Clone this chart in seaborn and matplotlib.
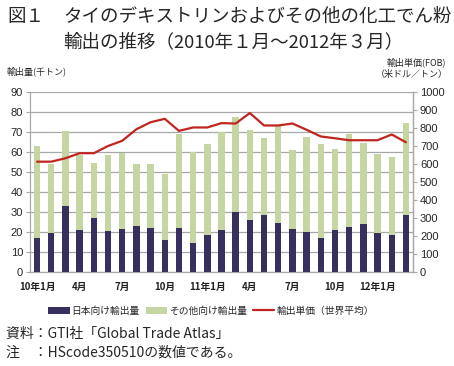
import numpy as np
import pandas as pd
import matplotlib
matplotlib.use("Agg")
import matplotlib.pyplot as plt
import seaborn as sns
from matplotlib.patches import Patch
from matplotlib.lines import Line2D

# ---- data ----
months = ["2010-01", "2010-02", "2010-03", "2010-04", "2010-05", "2010-06", "2010-07",
          "2010-08", "2010-09", "2010-10", "2010-11", "2010-12", "2011-01", "2011-02",
          "2011-03", "2011-04", "2011-05", "2011-06", "2011-07", "2011-08", "2011-09",
          "2011-10", "2011-11", "2011-12", "2012-01", "2012-02", "2012-03"]
japan = [17.2, 19.6, 32.9, 21.2, 27.1, 20.4, 21.6, 22.9, 22.2, 16.2, 22.1, 14.5, 18.7, 21.0,
         29.8, 25.8, 28.6, 24.7, 21.4, 20.2, 17.2, 20.9, 22.6, 23.9, 19.4, 18.7, 28.3]
other = [45.8, 34.4, 37.7, 37.3, 27.4, 38.3, 37.8, 30.9, 31.8, 32.6, 47.1, 45.4, 45.2, 48.9,
         47.5, 45.4, 38.3, 48.5, 39.5, 47.2, 46.7, 40.8, 46.6, 40.5, 39.5, 38.8, 46.3]
price = [613, 613, 632, 660, 660, 700, 729, 793, 832, 851, 784, 803, 803, 827,
         825, 883, 814, 814, 825, 790, 753, 743, 732, 732, 732, 764, 721]
tick_labels = ["10年1月", "", "", "4月", "", "", "7月", "", "", "10月", "", "", "11年1月", "",
               "", "4月", "", "", "7月", "", "", "10月", "", "", "12年1月", "", ""]
left_ticks = list(range(0, 91, 10))
right_ticks = list(range(0, 1001, 100))

NAVY = "#37305f"
GREEN = "#c6d6a2"
RED = "#c0251f"
GRID = "#a8a8a8"

df = pd.DataFrame({"month": months, "japan": japan, "other": other, "price": price})
df["total"] = df["japan"] + df["other"]

sns.set_theme(style="white")
plt.rcParams["font.family"] = ["Liberation Sans", "Noto Sans CJK JP", "DejaVu Sans"]
CJK = ["Noto Sans CJK JP", "DejaVu Sans"]

fig = plt.figure(figsize=(4.54, 3.66), dpi=100)
ax = fig.add_axes([30 / 454, 1 - 272 / 366, (413 - 30) / 454, (272 - 92) / 366])

sns.barplot(data=df, x="month", y="total", color=GREEN, width=0.45, ax=ax,
            saturation=1, linewidth=0, zorder=2)
sns.barplot(data=df, x="month", y="japan", color=NAVY, width=0.45, ax=ax,
            saturation=1, linewidth=0, zorder=3)

ax.set_ylim(0, 90)
ax.set_xlim(-0.5, len(months) - 0.5)
ax.set_yticks(left_ticks)
ax.yaxis.grid(True, color=GRID, linewidth=0.9, zorder=0)
ax.set_axisbelow(True)
ax.set_xlabel("")
ax.set_ylabel("")
ax.set_xticks(range(len(months)))
ax.set_xticklabels(tick_labels, fontsize=7, family=CJK, fontweight="bold", color="#222222")
ax.set_xticks(np.arange(-0.5, len(months), 1.0), minor=True)
ax.tick_params(axis="x", which="major", length=0, pad=7)
ax.tick_params(axis="x", which="minor", length=3, width=0.8, color=GRID, direction="out")
ax.tick_params(axis="y", length=3, width=0.8, color=GRID, labelsize=8, pad=2, left=True)
for s in ["top"]:
    ax.spines[s].set_visible(False)
for s in ["left", "bottom", "right"]:
    ax.spines[s].set_color(GRID)
    ax.spines[s].set_linewidth(0.9)

ax2 = ax.twinx()
sns.lineplot(x=np.arange(len(months)), y=df["price"], color=RED, linewidth=1.6, ax=ax2, zorder=5)
ax2.set_ylim(0, 1000)
ax2.set_yticks(right_ticks)
ax2.set_ylabel("")
ax2.tick_params(axis="y", length=3, width=0.8, color=GRID, labelsize=8, pad=2, right=True)
for s in ["top", "left", "bottom"]:
    ax2.spines[s].set_visible(False)
ax2.spines["right"].set_color(GRID)
ax2.spines["right"].set_linewidth(0.9)
ax2.grid(False)

# titles
fig.text(7 / 454, 1 - 17 / 366, "図１", fontsize=13.3, family=CJK, va="center", ha="left")
fig.text(63 / 454, 1 - 17 / 366, "タイのデキストリンおよびその他の化工でん粉",
         fontsize=13.3, family=CJK, va="center", ha="left")
fig.text(63 / 454, 1 - 42 / 366, "輸出の推移（2010年１月～2012年３月）",
         fontsize=13.3, family=CJK, va="center", ha="left")

fig.text(7 / 454, 1 - 71 / 366, "輸出量(千トン)", fontsize=6.5, family=CJK, va="center", ha="left")
fig.text(446 / 454, 1 - 62 / 366, "輸出単価(FOB)", fontsize=6.5, family=CJK, va="center", ha="right")
fig.text(448 / 454, 1 - 75 / 366, "（米ドル／トン）", fontsize=6.5, family=CJK, va="center", ha="right")

handles = [Patch(facecolor=NAVY, edgecolor="none"),
           Patch(facecolor=GREEN, edgecolor="none"),
           Line2D([0], [0], color=RED, linewidth=1.6)]
labels = ["日本向け輸出量", "その他向け輸出量", "輸出単価（世界平均）"]
fig.legend(handles, labels, loc="center", bbox_to_anchor=(211 / 454, 1 - 311 / 366), ncol=3,
           frameon=False, prop={"family": CJK, "size": 7}, handlelength=2.2, handleheight=0.8,
           handletextpad=0.2, columnspacing=0.6)

fig.text(6 / 454, 1 - 334 / 366, "資料：GTI社「Global Trade Atlas」", fontsize=10, family=CJK,
         va="center", ha="left")
fig.text(6 / 454, 1 - 353 / 366, "注　：HScode350510の数値である。", fontsize=10, family=CJK,
         va="center", ha="left")

fig.savefig("out.png", dpi=100)
